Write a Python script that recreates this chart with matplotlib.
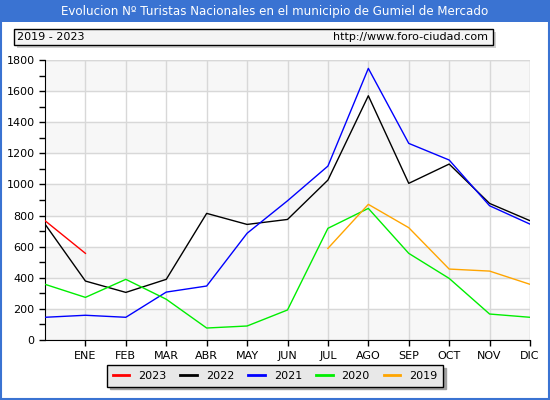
import numpy as np
import matplotlib
matplotlib.use("Agg")
import matplotlib.pyplot as plt
from matplotlib.patches import Rectangle

MONTHS = ["ENE", "FEB", "MAR", "ABR", "MAY", "JUN", "JUL", "AGO", "SEP", "OCT", "NOV", "DIC"]

# x = 0 is the December of the previous year, 1..12 are the months
Y2023 = [767, 557]
Y2022 = [745, 379, 306, 390, 814, 743, 775, 1028, 1570, 1007, 1131, 878, 767]
Y2021 = [146, 159, 146, 308, 347, 686, 895, 1118, 1746, 1264, 1157, 863, 745]
Y2020 = [358, 274, 390, 262, 77, 90, 193, 718, 846, 557, 396, 167, 146]
Y2019_X = [7, 8, 9, 10, 11, 12]
Y2019 = [589, 872, 722, 456, 443, 358]

SERIES = [
    ("2023", list(range(len(Y2023))), Y2023, "#ff0000"),
    ("2022", list(range(len(Y2022))), Y2022, "#000000"),
    ("2021", list(range(len(Y2021))), Y2021, "#0000ff"),
    ("2020", list(range(len(Y2020))), Y2020, "#00ee00"),
    ("2019", Y2019_X, Y2019, "#ffa500"),
]

BLUE = "#3a73d2"

fig = plt.figure(figsize=(5.5, 4.0), dpi=100)
fig.patch.set_facecolor("white")

# title bar + frame
fig.add_artist(Rectangle((0, 378 / 400), 1, 22 / 400, transform=fig.transFigure,
                         facecolor=BLUE, edgecolor="none"))
fig.add_artist(Rectangle((0.001, 0.002), 0.997, 0.996, transform=fig.transFigure,
                         facecolor="none", edgecolor=BLUE, linewidth=1.5))
fig.text(0.5, 389 / 400, "Evolucion Nº Turistas Nacionales en el municipio de Gumiel de Mercado",
         ha="center", va="center", color="white", fontsize=8.6)

# subheader box with shadow
fig.add_artist(Rectangle((17 / 550, (400 - 48) / 400), 479 / 550, 16 / 400,
                         transform=fig.transFigure, facecolor="#d0d0d0", edgecolor="none"))
fig.add_artist(Rectangle((14 / 550, (400 - 45) / 400), 479 / 550, 16 / 400,
                         transform=fig.transFigure, facecolor="#f4f4f4",
                         edgecolor="black", linewidth=1))
fig.text(17 / 550, (400 - 37) / 400, "2019 - 2023", ha="left", va="center", fontsize=8)
fig.text(488 / 550, (400 - 37) / 400, "http://www.foro-ciudad.com", ha="right",
         va="center", fontsize=8)

ax = fig.add_axes([45 / 550, 60 / 400, 485 / 550, 280 / 400])
ax.set_facecolor("white")
for y0 in range(0, 1800, 400):
    ax.axhspan(y0, y0 + 200, color="#f7f7f7", zorder=0)

ax.set_xlim(0, 12)
ax.set_ylim(0, 1800)
ax.set_xticks(range(1, 13))
ax.set_xticklabels(MONTHS)
ax.set_yticks(range(0, 1801, 200))
ax.set_yticks(range(0, 1801, 100), minor=True)
ax.grid(True, which="major", color="#d8d8d8", linewidth=1)
ax.set_axisbelow(True)
for s in ["top", "right"]:
    ax.spines[s].set_visible(False)
ax.tick_params(axis="both", which="both", labelsize=8, length=4, width=1)
ax.tick_params(axis="x", pad=4)
ax.tick_params(axis="y", which="minor", length=4)
ax.axvline(12, color="#d8d8d8", linewidth=1, zorder=0)
ax.axhline(1800, color="#d8d8d8", linewidth=1, zorder=0)

handles = []
for name, xs, ys, col in SERIES:
    h, = ax.plot(xs, ys, color=col, linewidth=1, label=name, zorder=3)
    handles.append(h)

leg = fig.legend(handles=handles, loc="center", ncol=5,
                 bbox_to_anchor=(275 / 550, (400 - 376) / 400), fontsize=8,
                 frameon=True, fancybox=False, shadow={"color": "#a0a0a0", "alpha": 1},
                 handlelength=1.5, columnspacing=1.25, borderpad=0.5)
leg.get_frame().set_facecolor("#e8e8e8")
leg.get_frame().set_edgecolor("black")
for l in leg.get_lines():
    l.set_linewidth(2)

fig.savefig("out.png", dpi=100)
